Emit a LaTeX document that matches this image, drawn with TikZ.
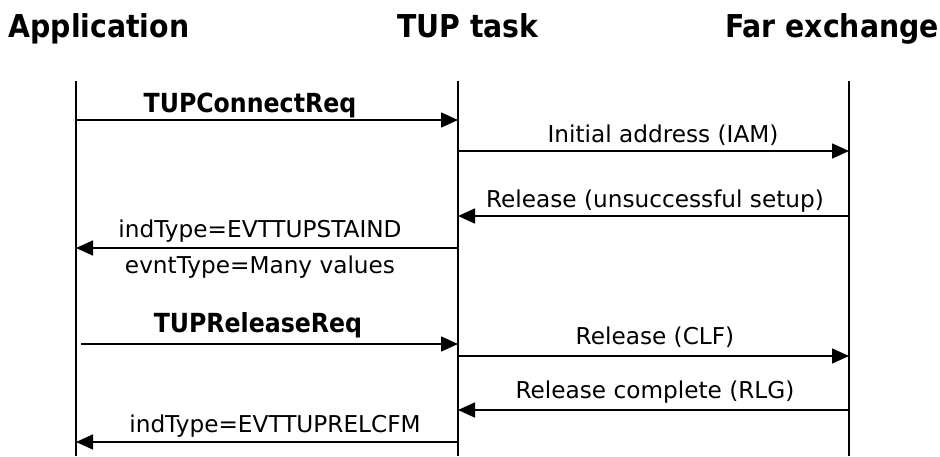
\documentclass[tikz,border=0pt]{standalone}
\usepackage{fontspec}
\setmainfont{DejaVu Sans}
\newfontfamily\condfont{DejaVu Sans Condensed}
\usetikzlibrary{arrows.meta}

\tikzset{
  lbl/.style={anchor=base, inner sep=0pt, font=\fontsize{23.2}{28}\selectfont},
  blbl/.style={anchor=base, inner sep=0pt, font=\condfont\bfseries\fontsize{26.3}{30}\selectfont},
  head/.style={anchor=base, inner sep=0pt, font=\condfont\bfseries\fontsize{31.5}{36}\selectfont},
  life/.style={line width=1.4pt},
  msg/.style={line width=1.6pt, -{Triangle[length=17pt,width=15pt]}}
}

\begin{document}
\begin{tikzpicture}[x=1pt, y=-1pt]
    \useasboundingbox (0,0) rectangle (940,456);
    % headings
    \node[head] (app) at (99,37) {Application};
    \node[head] (tup) at (468,37) {TUP task};
    \node[head] (far) at (832,37) {Far exchange};
    % lifelines
    \coordinate (appT) at (76,81);  \coordinate (appB) at (76,456);
    \coordinate (tupT) at (458,81); \coordinate (tupB) at (458,456);
    \coordinate (farT) at (849,81); \coordinate (farB) at (849,456);
    \draw[life] (appT) -- (appB);
    \draw[life] (tupT) -- (tupB);
    \draw[life] (farT) -- (farB);
    % connect
    \coordinate (m1a) at (76,120);  \coordinate (m1b) at (458,120);
    \draw[msg] (m1a) -- (m1b);
    \node[blbl] (l1) at (250,112) {TUPConnectReq};
    \coordinate (m2a) at (458,151); \coordinate (m2b) at (849,151);
    \draw[msg] (m2a) -- (m2b);
    \node[lbl] (l2) at (663,142) {Initial address (IAM)};
    \coordinate (m3a) at (849,216); \coordinate (m3b) at (458,216);
    \draw[msg] (m3a) -- (m3b);
    \node[lbl] (l3) at (655,207) {Release (unsuccessful setup)};
    \coordinate (m4a) at (458,248); \coordinate (m4b) at (76,248);
    \draw[msg] (m4a) -- (m4b);
    \node[lbl] (l4) at (260,237) {indType=EVTTUPSTAIND};
    \node[lbl] (l4b) at (260,273) {evntType=Many values};
    % release
    \coordinate (m5a) at (81,344);  \coordinate (m5b) at (458,344);
    \draw[msg] (m5a) -- (m5b);
    \node[blbl] (l5) at (258,332) {TUPReleaseReq};
    \coordinate (m6a) at (458,356); \coordinate (m6b) at (849,356);
    \draw[msg] (m6a) -- (m6b);
    \node[lbl] (l6) at (655,344) {Release (CLF)};
    \coordinate (m7a) at (849,410); \coordinate (m7b) at (458,410);
    \draw[msg] (m7a) -- (m7b);
    \node[lbl] (l7) at (655,398) {Release complete (RLG)};
    \coordinate (m8a) at (458,442); \coordinate (m8b) at (76,442);
    \draw[msg] (m8a) -- (m8b);
    \node[lbl] (l8) at (275,432) {indType=EVTTUPRELCFM};
\end{tikzpicture}
\end{document}
